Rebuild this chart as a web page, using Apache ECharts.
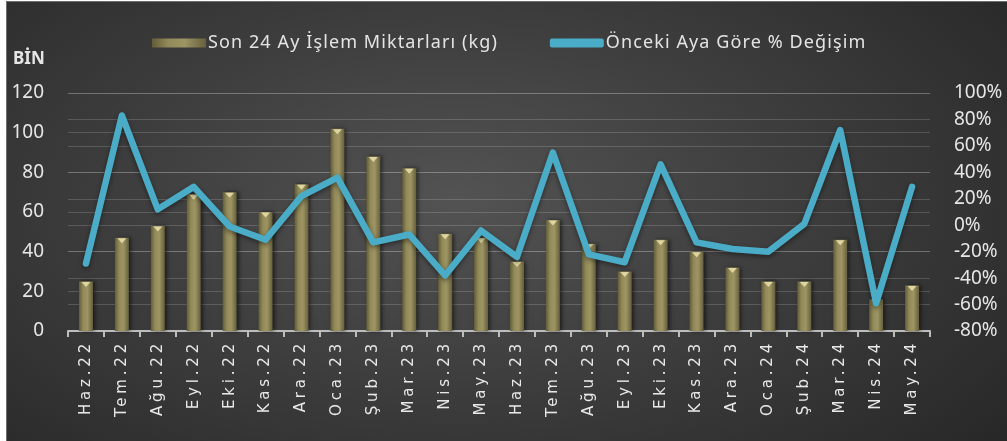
<!DOCTYPE html>
<html><head><meta charset="utf-8">
<script src="https://cdn.jsdelivr.net/npm/echarts@6/dist/echarts.min.js"></script>
<style>
html,body{margin:0;padding:0;background:#fff;width:1007px;height:441px;overflow:hidden}
#c{position:absolute;left:6px;top:1px;width:1001px;height:440px;border-left:1px solid #6e6e6e;border-top:1px solid #6e6e6e;
background:radial-gradient(ellipse 70% 85% at 45% 45%, #535353 0%, #3f3f3f 45%, #282828 100%);}
</style></head><body><div id="c"></div>
<script>
const categories = ['Haz.22','Tem.22','Ağu.22','Eyl.22','Eki.22','Kas.22','Ara.22','Oca.23','Şub.23','Mar.23','Nis.23','May.23','Haz.23','Tem.23','Ağu.23','Eyl.23','Eki.23','Kas.23','Ara.23','Oca.24','Şub.24','Mar.24','Nis.24','May.24'];
const volumes = [25,47,53,69,70,60,74,102,88,82,49,47,35,56,44,30,46,40,32,25,25,46,16,23];
const changes = [-29,83,12,29,-1,-11,22,36,-13,-7,-38,-4,-24,55,-22,-28,46,-13,-18,-20,1,72,-59,29];
const leftTicks = [0,20,40,60,80,100,120];
const rightTicks = [-80,-60,-40,-20,0,20,40,60,80,100];
const barName = 'Son 24 Ay İşlem Miktarları (kg)';
const lineName = 'Önceki Aya Göre % Değişim';

// letter spacing for category labels and legend text only
(function(){
  const P = CanvasRenderingContext2D.prototype, of = P.fillText;
  P.fillText = function(t,x,y,m){
    let ls = '0px';
    if (this.font.indexOf('DejaVu')>=0 && this.font.indexOf('15px')>=0) ls = '3.8px';
    else if (this.font.indexOf('18px')>=0 && this.font.indexOf('Noto')>=0) ls = '1.1px';
    if (this.letterSpacing !== undefined && this.letterSpacing !== ls) this.letterSpacing = ls;
    return m===undefined ? of.call(this,t,x,y) : of.call(this,t,x,y,m);
  };
})();

const chart = echarts.init(document.getElementById('c'), null, {renderer:'canvas'});
const gridLine = {show:true, lineStyle:{color:'rgba(255,255,255,0.16)', width:1}};
chart.setOption({
  backgroundColor:'transparent',
  animation:false,
  textStyle:{fontFamily:'Noto Sans'},
  title:{text:'BİN', left:1, top:44, textStyle:{color:'#e6e6e6', fontSize:17, fontWeight:'bold', fontFamily:'Noto Sans'}},
  legend:{
    left:140, top:27, itemWidth:54, itemHeight:9, itemGap:86,
    textStyle:{color:'#e4e4e4', fontSize:18, fontFamily:'Noto Sans', padding:[0,0,0,-3]},
    data:[{name:barName, icon:'rect'},{name:lineName, icon:'roundRect'}]
  },
  grid:{left:61, right:78, top:91, bottom:111},
  xAxis:{
    type:'category', data:categories, boundaryGap:true,
    axisLine:{lineStyle:{color:'#bdbdbd', width:2}},
    axisTick:{show:true, length:6, lineStyle:{color:'#bdbdbd', width:2}},
    axisLabel:{interval:0, rotate:90, margin:9, color:'#e8e8e8', fontSize:15, fontFamily:'DejaVu Sans'}
  },
  yAxis:[
    {type:'value', min:leftTicks[0], max:leftTicks[leftTicks.length-1], interval:20,
     axisLine:{show:false}, axisTick:{show:false}, splitLine:gridLine,
     axisLabel:{color:'#e6e6e6', fontSize:19, margin:24, fontFamily:'Noto Sans'}},
    {type:'value', min:rightTicks[0], max:rightTicks[rightTicks.length-1], interval:20,
     axisLine:{show:false}, axisTick:{show:false}, splitLine:gridLine,
     axisLabel:{color:'#e6e6e6', fontSize:19, margin:24, fontFamily:'Noto Sans', formatter:'{value}%'}}
  ],
  series:[
    {name:barName, type:'bar', data:volumes, barWidth:14, yAxisIndex:0, z:2,
     itemStyle:{
       color:{type:'linear',x:0,y:0,x2:1,y2:0,colorStops:[
         {offset:0,color:'#625c3a'},{offset:0.3,color:'#928a58'},{offset:0.6,color:'#9e9564'},{offset:1,color:'#655f3c'}]},
       shadowColor:'rgba(0,0,0,0.55)', shadowBlur:4, shadowOffsetX:2, shadowOffsetY:0
     }},
    {name:'cap', type:'scatter', data:volumes, yAxisIndex:0, z:3, symbol:'triangle', symbolRotate:180,
     symbolSize:[9,5], symbolOffset:[0,3], itemStyle:{color:'#efe6b0'}, silent:true, legendHoverLink:false},
    {name:lineName, type:'line', data:changes, yAxisIndex:1, z:5, symbol:'none',
     lineStyle:{color:'#4aacc6', width:6.5, cap:'round', join:'round', shadowColor:'rgba(0,0,0,0.45)', shadowBlur:5, shadowOffsetY:2},
     itemStyle:{color:'#4aacc6'}}
  ]
});
</script></body></html>
